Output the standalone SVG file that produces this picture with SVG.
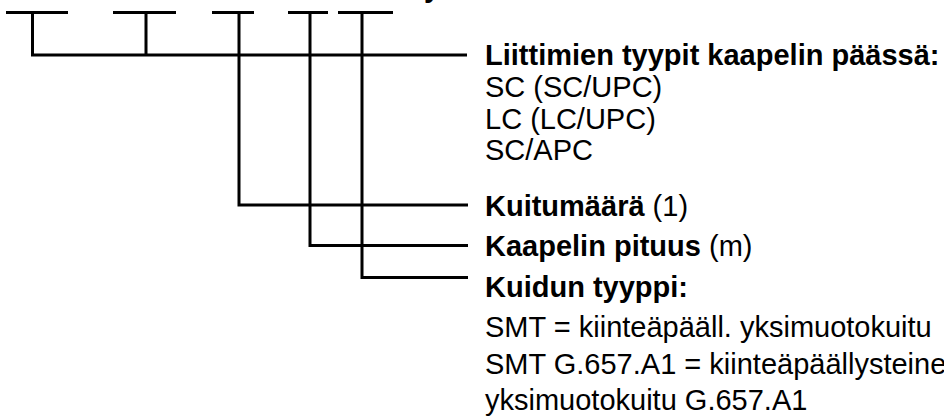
<svg xmlns="http://www.w3.org/2000/svg" width="944" height="416" viewBox="0 0 944 416">
<style>
.ln{stroke:#000;stroke-width:3;fill:none;stroke-linecap:butt;stroke-linejoin:miter}
text{font-family:"Liberation Sans",Arial,sans-serif;font-size:29px;fill:#000}
.b{font-weight:bold}
</style>
<rect width="944" height="416" fill="#fff"/>
<text class="b" x="424" y="-3">y</text>
<g id="connectors">
<path class="ln" d="M6 12.5H68M32.5 12.5V55H467"/>
<path class="ln" d="M113 12.5H176M146 12.5V55"/>
<path class="ln" d="M212 12.5H254M239 12.5V205H468"/>
<path class="ln" d="M288 12.5H328M310 12.5V245.5H468"/>
<path class="ln" d="M338 12.5H393M362 12.5V277.5H468"/>
</g>
<g id="node-connectors">
<text x="485" y="65"><tspan class="b">Liittimien tyypit kaapelin päässä:</tspan></text>
<text x="485" y="97">SC (SC/UPC)</text>
<text x="485" y="129">LC (LC/UPC)</text>
<text x="485" y="160">SC/APC</text>
</g>
<g id="node-fibre-count">
<text x="485" y="216"><tspan class="b">Kuitumäärä</tspan> (1)</text>
</g>
<g id="node-length">
<text x="485" y="256"><tspan class="b">Kaapelin pituus</tspan> (m)</text>
</g>
<g id="node-fibre-type">
<text x="485" y="297"><tspan class="b">Kuidun tyyppi:</tspan></text>
<text x="485" y="337">SMT = kiinteäpääll. yksimuotokuitu</text>
<text x="485" y="374">SMT G.657.A1 = kiinteäpäällysteinen</text>
<text x="485" y="410">yksimuotokuitu G.657.A1</text>
</g>
</svg>
